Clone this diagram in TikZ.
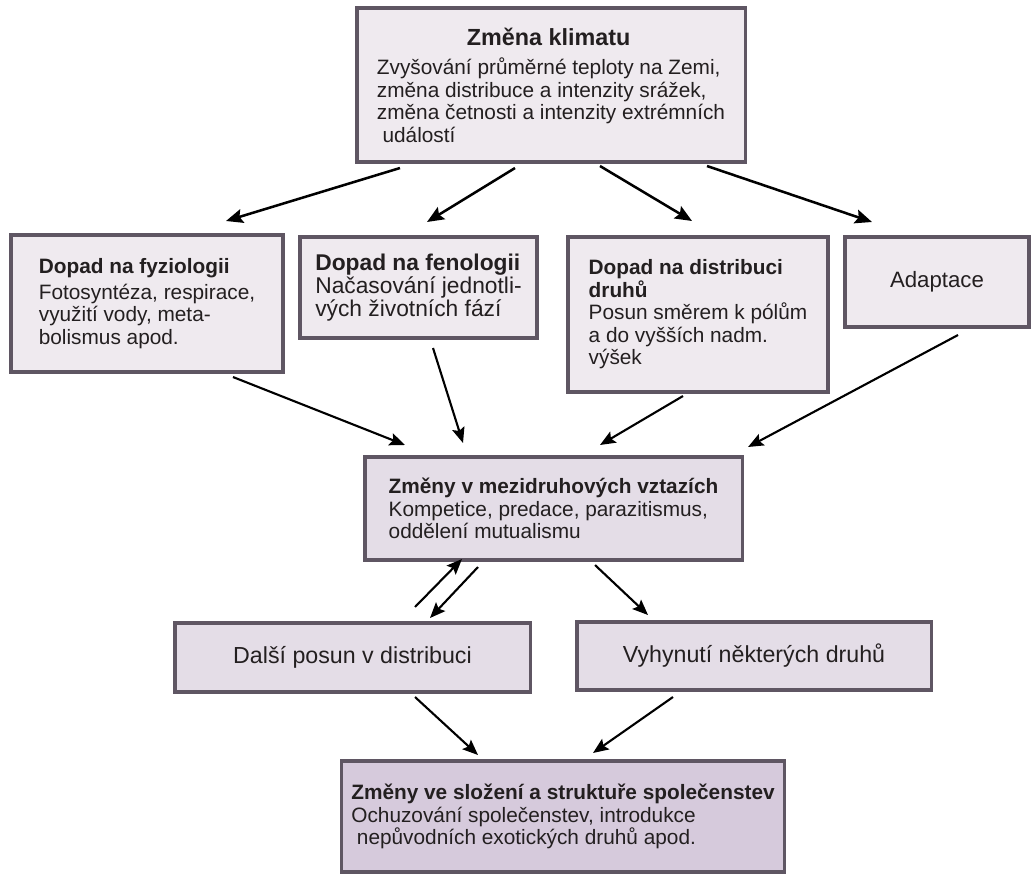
\documentclass[tikz,border=0pt]{standalone}
\usepackage{fontspec}
\setmainfont{Liberation Sans}
\usetikzlibrary{arrows.meta,calc}
\definecolor{ramec}{HTML}{5F5663}
\definecolor{svetla}{HTML}{EFEAEF}
\definecolor{stredni}{HTML}{E4DDE7}
\definecolor{tmavsi}{HTML}{D6CADC}
\definecolor{pismo}{HTML}{231F20}
\newlength\klimasirka
\AtBeginDocument{\lineskiplimit=-20pt\relax}
\begin{document}
\begin{tikzpicture}[x=0.025cm,y=-0.025cm,
  box/.style={draw=ramec, line width=2.2pt, fill=#1, align=left, outer sep=0pt, inner sep=0pt,
    text=pismo, font=\fontsize{14.8}{16}\selectfont},
  box/.default=svetla,
  sipka/.style={-{Stealth[length=11pt,width=9pt,inset=2pt]}, line width=1.5pt},
  tlusta/.style={-{Stealth[length=12pt,width=10pt,inset=2pt]}, line width=1.8pt}]
\useasboundingbox (0,0) rectangle (1031,875);
\node [box, minimum width=9.7cm, minimum height=3.85cm] (klima) at (551,85)
  {{\settowidth\klimasirka{Zvyšování průměrné teploty na Zemi,}%
    \makebox[\klimasirka][c]{\fontsize{16.6}{18}\selectfont\bfseries Změna klimatu}}\\[5pt]
   Zvyšování průměrné teploty na Zemi,\\
   změna distribuce a intenzity srážek,\\
   změna četnosti a intenzity extrémních\\
   \hspace*{4pt}událostí};
\node [box, minimum width=6.8cm, minimum height=3.425cm] (fyzio) at (147,303.5)
  {\textbf{Dopad na fyziologii}\\[2pt] Fotosyntéza, respirace,\\ využití vody, meta-\\ bolismus apod.};
\node [box, minimum width=5.925cm, minimum height=2.525cm,
  font=\fontsize{16.2}{16.2}\selectfont] (feno) at (418.5,287.5)
  {\textbf{Dopad na fenologii}\\ Načasování jednotli-\\ vých životních fází};
\node [box, minimum width=6.5cm, minimum height=3.875cm] (distr) at (698,314.5)
  {\textbf{Dopad na distribuci}\\ \textbf{druhů}\\ Posun směrem k pólům\\ a do vyšších nadm.\\ výšek};
\node [box, minimum width=4.6cm, minimum height=2.25cm,
  font=\fontsize{15.8}{16}\selectfont] (adapt) at (937,282) {Adaptace};
\node [box=stredni, minimum width=9.425cm, minimum height=2.575cm] (vztahy) at (553.5,508.5)
  {\textbf{Změny v mezidruhových vztazích}\\ Kompetice, predace, parazitismus,\\ oddělení mutualismu};
\node [box=stredni, minimum width=8.875cm, minimum height=1.725cm,
  font=\fontsize{16.5}{17}\selectfont] (posun) at (352.5,657.5) {Další posun v distribuci};
\node [box=stredni, minimum width=8.85cm, minimum height=1.7cm,
  font=\fontsize{16.5}{17}\selectfont] (vyhyn) at (754,656) {Vyhynutí některých druhů};
\node [box=tmavsi, minimum width=11.05cm, minimum height=2.775cm] (spol) at (563,816.5)
  {\textbf{Změny ve složení a struktuře společenstev}\\ Ochuzování společenstev, introdukce\\ \hspace*{4pt}nepůvodních exotických druhů apod.};
\draw [tlusta] ($(klima.south west)+(43,6)$) -- ($(fyzio.north)+(79,-14)$);
\draw [tlusta] ($(klima.south)+(-36,6)$) -- ($(feno.north)+(8.5,-15)$);
\draw [tlusta] ($(klima.south)+(49,4)$) -- ($(distr.north)+(-6,-16)$);
\draw [tlusta] ($(klima.south east)+(-38,4)$) -- ($(adapt.north)+(-65,-15)$);
\draw [sipka] ($(fyzio.south)+(86,5)$) -- ($(vztahy.north)+(-148.5,-12)$);
\draw [sipka] ($(feno.south)+(14.5,10)$) -- ($(vztahy.north)+(-90.5,-14)$);
\draw [sipka] ($(distr.south)+(-15,4)$) -- ($(vztahy.north)+(46.5,-12)$);
\draw [sipka] ($(adapt.south)+(21,8)$) -- ($(vztahy.north east)+(6,-10)$);
\draw [sipka] ($(posun.north)+(62.5,-16)$) -- ($(vztahy.south)+(-91.5,-1)$);
\draw [sipka] ($(vztahy.south)+(-75.5,7)$) -- ($(posun.north)+(77.5,-5)$);
\draw [sipka] ($(vztahy.south)+(41.5,5)$) -- ($(vyhyn.north)+(-106,-7)$);
\draw [sipka] ($(posun.south)+(62.5,5)$) -- ($(spol.north)+(-85,-6)$);
\draw [sipka] ($(vyhyn.south)+(-81,7)$) -- ($(spol.north)+(30,-8)$);
\end{tikzpicture}
\end{document}
